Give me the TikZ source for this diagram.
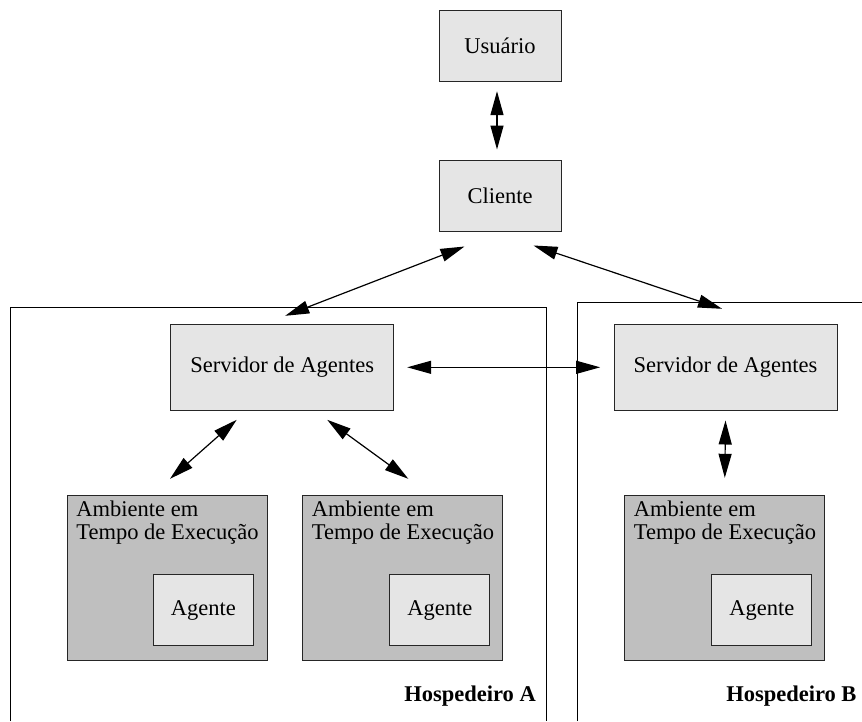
\documentclass[tikz,border=0pt]{standalone}
\usepackage{fontspec}
\setmainfont{Liberation Serif}
\usetikzlibrary{arrows.meta,calc}
\begin{document}
\begin{tikzpicture}[x=1pt,y=-1pt,
  every node/.style={font=\fontsize{22.5}{22.7}\selectfont},
  lightbox/.style={draw=black!85, line width=1pt, fill=black!10, inner sep=0pt},
  ambbox/.style={draw=black!85, line width=1pt, fill=black!25, inner sep=0pt,
                 minimum width=200pt, minimum height=165pt},
  agbox/.style={lightbox, minimum width=100pt, minimum height=71.4pt},
  ambtext/.style={anchor=north west, align=left, inner sep=0pt},
  biarrow/.style={{Triangle[length=24pt,width=13pt]}-{Triangle[length=24pt,width=13pt]},
                  line width=1.2pt},
  hostframe/.style={line width=1pt},
  hostlabel/.style={font=\fontsize{22.5}{22.7}\selectfont\bfseries,
                    inner sep=0pt, anchor=base east}]
\useasboundingbox (0,0) rectangle (862,721);

% host frames, open at the bottom
\draw[hostframe] (10.3,721) |- (546.7,307.3) -- (546.7,721);
\draw[hostframe] (577,721) |- (862,302.7);

% user and client
\node[lightbox, minimum width=122pt, minimum height=71pt] (usr) at (500,45.5) {Usuário};
\node[lightbox, minimum width=122pt, minimum height=71pt] (cli) at (500,195.5) {Cliente};

% agent servers
\node[lightbox, minimum width=223pt, minimum height=86pt] (srvA) at (282.2,367.3) {Servidor de Agentes};
\node[lightbox, minimum width=223pt, minimum height=86pt] (srvB) at (725.5,367.3) {Servidor de Agentes};

% runtime environments
\node[ambbox] (ambA1) at (167.3,577.8) {};
\node[ambbox] (ambA2) at (402.8,577.8) {};
\node[ambbox] (ambB) at (724.8,577.8) {};

\node[ambtext] (ambA1txt) at ([xshift=9.4pt,yshift=-6pt]ambA1.north west) {Ambiente em\\Tempo de Execução};
\node[ambtext] (ambA2txt) at ([xshift=9.4pt,yshift=-6pt]ambA2.north west) {Ambiente em\\Tempo de Execução};
\node[ambtext] (ambBtxt) at ([xshift=9.4pt,yshift=-6pt]ambB.north west) {Ambiente em\\Tempo de Execução};

% agents
\node[agbox, anchor=south east] (agA1) at ([xshift=-14pt,yshift=14.6pt]ambA1.south east) {Agente};
\node[agbox, anchor=south east] (agA2) at ([xshift=-13pt,yshift=14.6pt]ambA2.south east) {Agente};
\node[agbox, anchor=south east] (agB) at ([xshift=-13pt,yshift=14.6pt]ambB.south east) {Agente};

% host labels
\node[hostlabel] (hostA) at (536,701) {Hospedeiro A};
\node[hostlabel] (hostB) at (856.7,701) {Hospedeiro B};

% connections
\draw[biarrow] ([xshift=-3pt,yshift=-9.7pt]usr.south) -- ([xshift=-3pt,yshift=10pt]cli.north);
\draw[biarrow] ([xshift=26pt,yshift=-15pt]cli.south west) -- ([xshift=3pt,yshift=8pt]srvA.north);
\draw[biarrow] ([xshift=-28pt,yshift=-14pt]cli.south east) -- ([xshift=-3.5pt,yshift=15pt]srvB.north);
\draw[biarrow] ([xshift=13pt]srvA.east) -- ([xshift=-13.3pt]srvB.west);
\draw[biarrow] ([xshift=-45.5pt,yshift=-9pt]srvA.south) -- ([xshift=2.7pt,yshift=16pt]ambA1.north);
\draw[biarrow] ([xshift=45pt,yshift=-9pt]srvA.south) -- ([xshift=5.5pt,yshift=16pt]ambA2.north);
\draw[biarrow] ([yshift=-9.7pt]srvB.south) -- ([yshift=17pt]ambB.north);
\end{tikzpicture}
\end{document}
